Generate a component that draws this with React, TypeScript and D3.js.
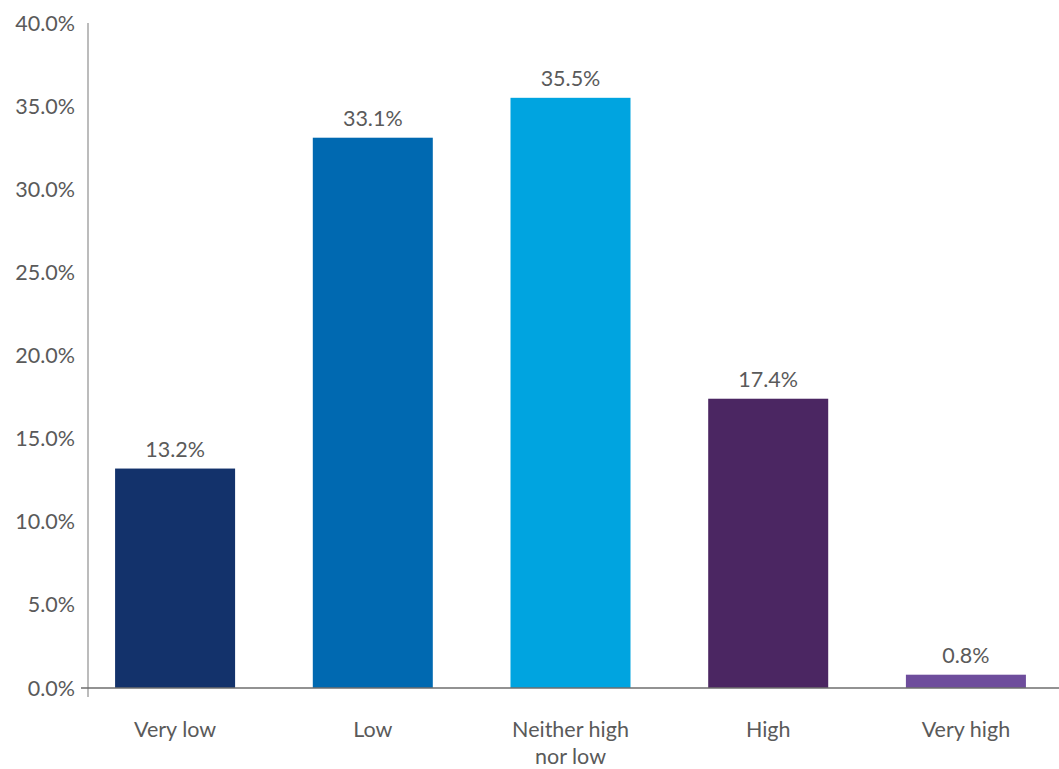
import React from "react";
import * as d3 from "d3";

const categories: string[][] = [
  ["Very low"],
  ["Low"],
  ["Neither high", "nor low"],
  ["High"],
  ["Very high"],
];
const values: number[] = [13.2, 33.1, 35.5, 17.4, 0.8];
const barColors: string[] = ["#13326B", "#0069B1", "#00A4E0", "#4B2662", "#6E4D9C"];
const yTicks: number[] = [0, 5, 10, 15, 20, 25, 30, 35, 40];

const W = 1059;
const H = 769;
const FONT = "Lato, 'Open Sans', sans-serif";
const TEXT = "#5A5A5A";
const FS = 21.5;

export default function App() {
  const keys = categories.map((c) => c.join(" "));
  const x = d3
    .scaleBand<string>()
    .domain(keys)
    .range([88, 1053])
    .paddingInner(0.393)
    .paddingOuter(0.137);
  const y = d3.scaleLinear().domain([0, 40]).range([688, 23]);
  const fmt = (v: number) => d3.format(".1f")(v) + "%";

  return (
    <svg
      width={W}
      height={H}
      style={{ position: "absolute", left: 0, top: 0, background: "#fff" }}
      fontFamily={FONT}
    >
      {/* value axis labels */}
      {yTicks.map((t) => (
        <text
          key={t}
          x={75}
          y={y(t) + 7.5}
          textAnchor="end"
          fontSize={FS}
          fill={TEXT}
        >
          {fmt(t)}
        </text>
      ))}

      {/* bars */}
      {values.map((v, i) => {
        const bx = x(keys[i])!;
        return (
          <g key={keys[i]}>
            <rect
              x={bx}
              y={y(v)}
              width={x.bandwidth()}
              height={y(0) - y(v)}
              fill={barColors[i]}
            />
            <text
              x={bx + x.bandwidth() / 2}
              y={y(v) - 12}
              textAnchor="middle"
              fontSize={FS}
              fill={TEXT}
            >
              {fmt(v)}
            </text>
          </g>
        );
      })}

      {/* axis lines */}
      <line x1={88} x2={88} y1={23} y2={697} stroke="#A6A6A6" strokeWidth={1.5} />
      <line x1={81} x2={1059} y1={688} y2={688} stroke="#6E6E6E" strokeWidth={1.5} />

      {/* category labels */}
      {categories.map((lines, i) => (
        <text
          key={keys[i]}
          x={x(keys[i])! + x.bandwidth() / 2}
          y={737}
          textAnchor="middle"
          fontSize={FS}
          fill={TEXT}
        >
          {lines.map((ln, j) => (
            <tspan key={j} x={x(keys[i])! + x.bandwidth() / 2} dy={j === 0 ? 0 : 27}>
              {ln}
            </tspan>
          ))}
        </text>
      ))}
    </svg>
  );
}
